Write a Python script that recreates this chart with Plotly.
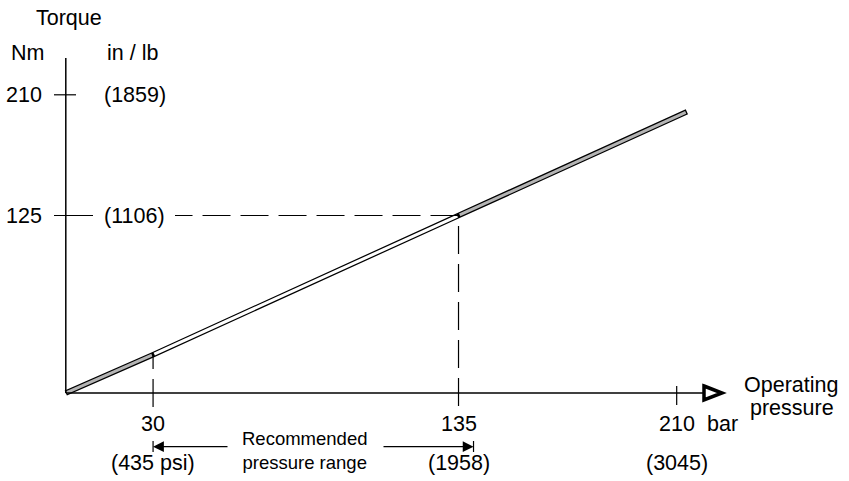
import plotly.graph_objects as go

# torque curve (bar -> Nm)
pressure = [0, 30, 135, 213.5]
torque = [0, 27, 125, 198]

# axis ticks and their labels
x_ticks = [30, 135, 210]
x_labels = ["30", "135", "210"]
x_alt_labels = ["(435 psi)", "(1958)", "(3045)"]
y_ticks = [125, 210]
y_labels = ["125", "210"]
y_alt_labels = ["(1106)", "(1859)"]

# recommended pressure range (bar)
rec_range = [30, 135]

# pixel <-> data mapping (plot area fills the whole page)
W, H = 849, 481
X0, SX = 65.8, 2.909   # px of 0 bar, px per bar
Y0, SY = 393.0, 1.42   # px of 0 Nm, px per Nm


def bx(px):
    return (px - X0) / SX


def ny(py):
    return (Y0 - py) / SY


def sx(bar):
    return X0 + bar * SX


def interp(p, p0, p1, t0, t1):
    return t0 + (t1 - t0) * (p - p0) / (p1 - p0)


FONT = "Liberation Sans, Arial, Helvetica, sans-serif"
GREY = "#b4b4b4"

fig = go.Figure()

# outer black band of the torque line
fig.add_trace(go.Scatter(x=pressure, y=torque, mode="lines",
                         line=dict(color="black", width=5.5), hoverinfo="skip"))

# inner fill: grey outside the recommended range, white inside
fills = [GREY, "white", GREY]
gap = 0.4
for i in range(len(pressure) - 1):
    p0, p1 = pressure[i], pressure[i + 1]
    t0, t1 = torque[i], torque[i + 1]
    a = p0 + (gap if i > 0 else 0.3)
    b = p1 - gap
    fig.add_trace(go.Scatter(
        x=[a, b],
        y=[interp(a, p0, p1, t0, t1), interp(b, p0, p1, t0, t1)],
        mode="lines", line=dict(color=fills[i], width=3), hoverinfo="skip"))

shapes = []
# axes
shapes.append(dict(type="line", x0=0, y0=0, x1=0, y1=ny(58),
                   line=dict(color="black", width=1.5)))
shapes.append(dict(type="line", x0=0, y0=0, x1=bx(712), y1=0,
                   line=dict(color="black", width=1.5)))
# arrow head at the end of the pressure axis (heavy outline, small white core)
shapes.append(dict(type="path",
                   path=f"M {bx(704)},{ny(386)} L {bx(722)},{ny(393)} L {bx(704)},{ny(400)} Z",
                   line=dict(color="black", width=3.5), fillcolor="white"))

# y ticks (crossing the axis)
for v in y_ticks:
    right = 93 if v == 125 else 76
    shapes.append(dict(type="line", x0=bx(54), y0=v, x1=bx(right), y1=v,
                       line=dict(color="black", width=1.2)))

# x tick at 210 (the others are the dashed guides)
shapes.append(dict(type="line", x0=x_ticks[2], y0=ny(386), x1=x_ticks[2], y1=ny(405),
                   line=dict(color="black", width=1.2)))

# dashed guides
dash = "28px,10px"
shapes.append(dict(type="line", x0=pressure[1], y0=ny(407), x1=pressure[1], y1=torque[1],
                   line=dict(color="black", width=1.2, dash=dash)))
shapes.append(dict(type="line", x0=pressure[2], y0=ny(406), x1=pressure[2], y1=torque[2],
                   line=dict(color="black", width=1.2, dash=dash)))
shapes.append(dict(type="line", x0=pressure[2], y0=torque[2], x1=bx(175), y1=torque[2],
                   line=dict(color="black", width=1.2, dash=dash)))

# recommended range arrows end bars
ry = ny(446.7)
left_tip = rec_range[0]
right_tip = bx(sx(rec_range[1]) + 15)
for xt in (left_tip, right_tip):
    shapes.append(dict(type="line", x0=xt, y0=ny(441), x1=xt, y1=ny(452),
                       line=dict(color="black", width=1.2)))

annotations = []


def label(text, x, y, size=21.5, xanchor="center", xref="x", yref="y"):
    annotations.append(dict(text=text, x=x, y=y, xref=xref, yref=yref,
                            showarrow=False, xanchor=xanchor, yanchor="middle",
                            font=dict(family=FONT, size=size, color="black")))


label("Torque", bx(68.5), ny(18))
label("Nm", bx(27.5), ny(53))
label("in / lb", bx(132), ny(53))

for v, t, alt in zip(y_ticks, y_labels, y_alt_labels):
    label(t, bx(44), v, xanchor="right")
    label(alt, bx(134.5), v)

for v, t, alt in zip(x_ticks, x_labels, x_alt_labels):
    label(t, v, ny(424))
    label(alt, v, ny(463))

label("bar", bx(722.5), ny(424))
label("Operating", bx(791), ny(385))
label("pressure", bx(791.5), ny(408))
label("Recommended<br>pressure range", bx(304), ny(450), size=18.5)

# arrows of the recommended range
for tip, tail in ((left_tip, bx(229)), (right_tip, bx(382))):
    annotations.append(dict(x=tip, y=ry, ax=tail, ay=ry, xref="x", yref="y",
                            axref="x", ayref="y", text="", showarrow=True,
                            arrowhead=2, arrowsize=1.8, arrowwidth=1.2,
                            arrowcolor="black", standoff=0))

fig.update_layout(
    width=W, height=H,
    margin=dict(l=0, r=0, t=0, b=0),
    paper_bgcolor="white", plot_bgcolor="white",
    showlegend=False,
    xaxis=dict(visible=False, range=[bx(0), bx(W)], fixedrange=True),
    yaxis=dict(visible=False, range=[ny(H), ny(0)], fixedrange=True),
    shapes=shapes,
    annotations=annotations,
)

# the page's default body margin would shift the figure by 8px
fig.write_html("out.html", config={"displayModeBar": False},
               post_script="document.body.style.margin='0';")
